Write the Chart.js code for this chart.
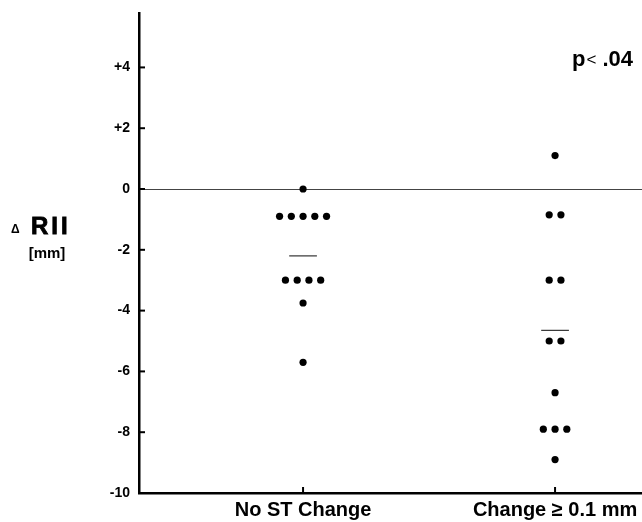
<!DOCTYPE html>
<html>
<head>
<meta charset="utf-8">
<script src="https://cdn.jsdelivr.net/npm/chart.js@4.4.1/dist/chart.umd.min.js"></script>
<style>
  html, body { margin: 0; padding: 0; background: #fff; }
  #wrap { width: 642px; height: 522px; position: relative; }
</style>
</head>
<body>
<div id="wrap"><canvas id="c" width="642" height="522"></canvas></div>
<script>
// ---- data ----
const categories = ['No ST Change', 'Change \u2265 0.1 mm'];
const noChangeValues = [0, -0.9, -0.9, -0.9, -0.9, -0.9, -3.0, -3.0, -3.0, -3.0, -3.75, -5.7];
const stChangeValues = [1.1, -0.85, -0.85, -3.0, -3.0, -5.0, -5.0, -6.7, -7.9, -7.9, -7.9, -8.9];
const groupMeans = [-2.2, -4.65];
const yTickValues = [-10, -8, -6, -4, -2, 0, 2, 4];
const pValueText = ['p', '<', ' .04'];
const axisTitle = ['\u0394', 'RII', '[mm]'];

// ---- helpers (layout) ----
const DOT_SPACING = 0.0466;   // x-units between side-by-side dots
const MEAN_HALF = 0.055;

function spread(values, groupIndex) {
  const counts = {};
  values.forEach(v => { counts[v] = (counts[v] || 0) + 1; });
  const seen = {};
  return values.map(v => {
    const n = counts[v];
    const k = seen[v] = (seen[v] === undefined ? 0 : seen[v] + 1);
    return { x: groupIndex + (k - (n - 1) / 2) * DOT_SPACING, y: v };
  });
}

const datasets = [
  { type: 'scatter', data: spread(noChangeValues, 1), pointRadius: 3.6, pointBackgroundColor: '#000', pointBorderWidth: 0, borderColor: '#000' },
  { type: 'scatter', data: spread(stChangeValues, 2), pointRadius: 3.6, pointBackgroundColor: '#000', pointBorderWidth: 0, borderColor: '#000' }
];
groupMeans.forEach((m, i) => {
  datasets.push({
    type: 'line',
    data: [{ x: i + 1 - MEAN_HALF, y: m }, { x: i + 1 + MEAN_HALF, y: m }],
    borderColor: '#333', borderWidth: 1.2, pointRadius: 0, fill: false
  });
});

const FONT = '"Liberation Sans", Arial, Helvetica, sans-serif';

const extras = {
  id: 'extras',
  afterDraw(chart) {
    const ctx = chart.ctx;
    const xs = chart.scales.x, ys = chart.scales.y;
    const left = chart.chartArea.left, bottom = chart.chartArea.bottom;
    ctx.save();
    ctx.strokeStyle = '#000';
    ctx.lineWidth = 2;
    // inward ticks on y axis
    yTickValues.forEach(v => {
      const py = ys.getPixelForValue(v);
      ctx.beginPath(); ctx.moveTo(left, py); ctx.lineTo(left + 6, py); ctx.stroke();
    });
    // inward ticks on x axis
    [1, 2].forEach(v => {
      const px = xs.getPixelForValue(v);
      ctx.beginPath(); ctx.moveTo(px, bottom); ctx.lineTo(px, bottom - 6); ctx.stroke();
    });
    // axis title
    ctx.fillStyle = '#000';
    ctx.textBaseline = 'alphabetic';
    ctx.textAlign = 'left';
    ctx.font = 'bold 12px ' + FONT;
    ctx.fillText(axisTitle[0], 11, 233);
    ctx.font = 'bold 24px ' + FONT;
    ctx.letterSpacing = '3px';
    ctx.lineWidth = 0.8;
    ctx.fillText(axisTitle[1], 31, 234);
    ctx.strokeText(axisTitle[1], 31, 234);
    ctx.letterSpacing = '0px';
    ctx.font = 'bold 15px ' + FONT;
    ctx.textAlign = 'center';
    ctx.fillText(axisTitle[2], 47, 258);
    // p value
    ctx.textAlign = 'left';
    let px = 572;
    ctx.font = 'bold 22px ' + FONT;
    ctx.fillText(pValueText[0], px, 66); px += ctx.measureText(pValueText[0]).width + 1;
    ctx.font = '17px ' + FONT;
    ctx.fillText(pValueText[1], px, 65); px += ctx.measureText(pValueText[1]).width;
    ctx.font = 'bold 22px ' + FONT;
    ctx.fillText(pValueText[2], px, 66);
    ctx.restore();
  }
};

new Chart(document.getElementById('c'), {
  data: { datasets },
  options: {
    responsive: false,
    animation: false,
    devicePixelRatio: 1,
    layout: { autoPadding: false, padding: { top: 13, right: 0, left: 0, bottom: 0 } },
    plugins: { legend: { display: false }, tooltip: { enabled: false } },
    scales: {
      x: {
        type: 'linear',
        min: 0.349,
        max: 2.345,
        afterBuildTicks: s => { s.ticks = [{ value: 1 }, { value: 2 }]; },
        afterFit: s => { s.height = 29; s.paddingLeft = 0; s.paddingRight = 0; },
        ticks: {
          callback: v => categories[v - 1] || '',
          color: '#000',
          font: { family: FONT, size: 20, weight: 'bold' },
          padding: 5,
          maxRotation: 0,
          autoSkip: false
        },
        grid: { display: false, drawTicks: false },
        border: { display: true, color: '#000', width: 2.5 }
      },
      y: {
        type: 'linear',
        min: -10,
        max: 5.79,
        afterBuildTicks: s => { s.ticks = yTickValues.map(v => ({ value: v })); },
        afterFit: s => { s.width = 139; s.paddingTop = 0; s.paddingBottom = 0; },
        ticks: {
          callback: v => (v > 0 ? '+' + v : String(v)),
          color: '#000',
          font: { family: FONT, size: 14, weight: 'bold' },
          padding: 9
        },
        grid: {
          drawTicks: false,
          color: c => (c.tick && c.tick.value === 0 ? '#444' : 'rgba(0,0,0,0)'),
          lineWidth: c => (c.tick && c.tick.value === 0 ? 1 : 0)
        },
        border: { display: true, color: '#000', width: 2.5 }
      }
    }
  },
  plugins: [extras]
});
</script>
</body>
</html>
